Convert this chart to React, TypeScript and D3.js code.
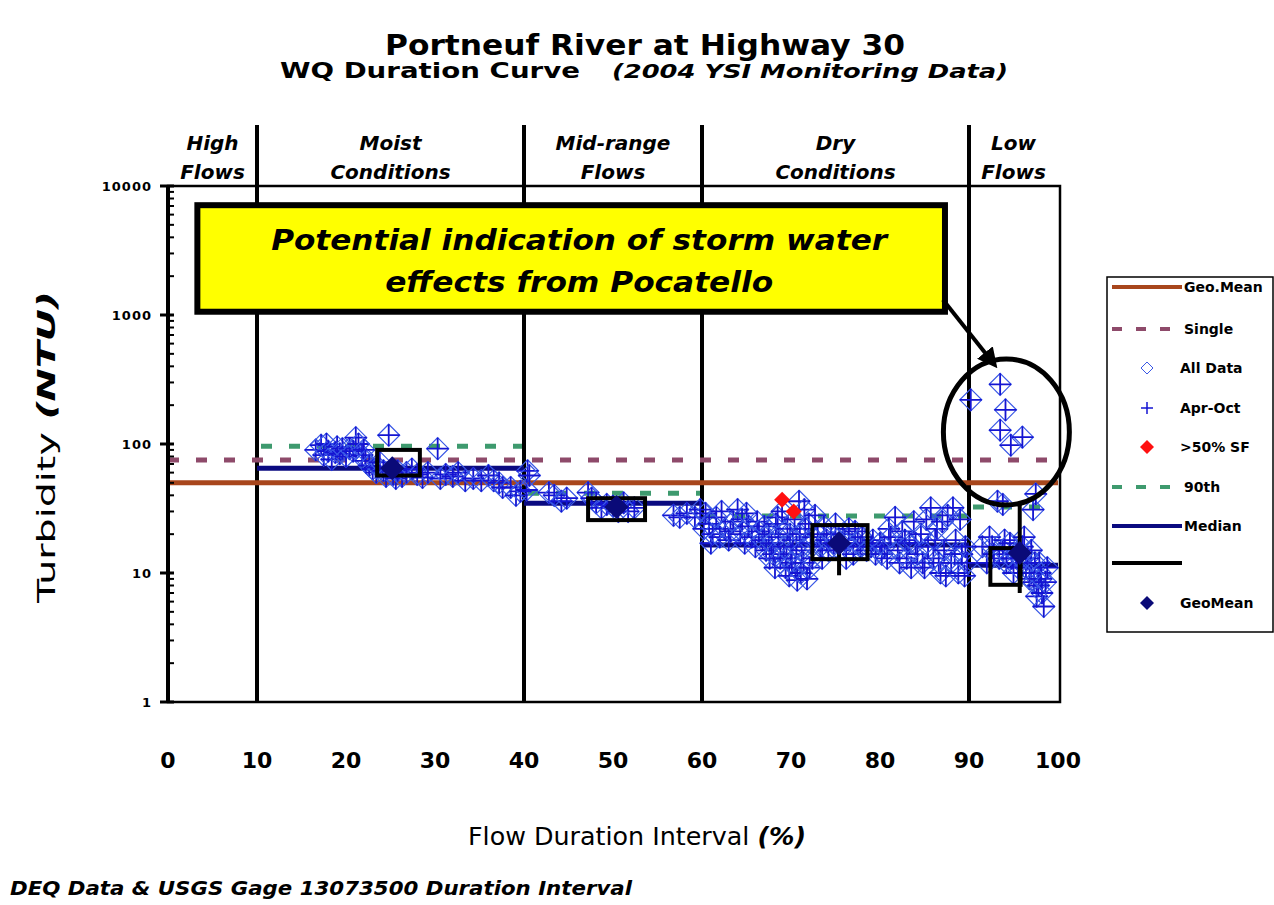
import React from "react";
import * as d3 from "d3";

// ---------- data ----------
const zoneBounds = [0, 10, 40, 60, 90, 100];
const zoneTop = ["High", "Moist", "Mid-range", "Dry", "Low"];
const zoneBottom = ["Flows", "Conditions", "Flows", "Conditions", "Flows"];
const xTicks = [0, 10, 20, 30, 40, 50, 60, 70, 80, 90, 100];
const yTicks = [1, 10, 100, 1000, 10000];
const yTickLabels = ["1", "10", "100", "1000", "10000"];

const geoMeanStandard = 50;
const singleStandard = 75;
const pct90ByZone = [NaN, 96, 41.5, 27.6, 32.5];
const medianByZone = [NaN, 65, 34.8, 16.5, 11.5];

const moistPoints: [number, number][] = [
  [16.6, 90], [17.2, 98], [17.5, 82], [17.8, 100], [18.0, 88], [18.4, 76], [18.8, 86], [19.0, 95],
  [19.3, 84], [19.6, 92], [20.0, 80], [20.4, 92], [20.8, 88], [21.1, 112], [21.4, 100], [21.8, 82],
  [22.0, 90], [22.2, 74], [22.6, 68], [23.0, 64], [23.4, 60], [23.6, 66], [23.8, 72], [24.2, 62],
  [24.5, 56], [24.8, 117], [25.3, 58], [25.6, 54], [25.8, 62], [26.3, 56], [26.8, 60], [27.4, 64],
  [28.0, 58], [28.6, 55], [29.2, 60], [30.3, 92], [30.6, 54], [31.2, 58], [32.0, 56], [32.6, 60],
  [33.4, 52], [34.3, 54], [35.2, 52], [36.0, 57], [36.6, 52], [37.2, 50], [37.6, 46], [38.5, 46],
  [39.1, 40], [39.6, 43], [40.4, 62],
];
const midPoints: [number, number][] = [
  [40.3, 44], [40.6, 57], [42.8, 42], [43.4, 40], [44.2, 36], [44.8, 38], [47.2, 42], [47.6, 38],
  [48.1, 35], [48.7, 32], [49.3, 34], [50.0, 33], [50.6, 30], [51.2, 35], [51.7, 30], [52.4, 32],
  [56.8, 28], [57.5, 27], [58.3, 29], [59.2, 27], [59.8, 31],
];
const dryPoints: [number, number][] = [
  [60.2, 22], [60.4, 29], [60.8, 24], [61.0, 17], [61.2, 20], [61.6, 27], [62.0, 19], [62.2, 30],
  [62.6, 22], [63.0, 18], [63.2, 21], [63.5, 25], [64.0, 31], [64.3, 20], [64.5, 26], [64.8, 17],
  [65.0, 29], [65.2, 23], [65.6, 19], [66.0, 16], [66.2, 25], [66.4, 21], [66.8, 18], [67.0, 23],
  [67.2, 15], [67.5, 20], [67.6, 13], [67.8, 17], [68.0, 14], [68.2, 11], [68.3, 24], [68.5, 27],
  [68.6, 19], [68.8, 13], [69.0, 30], [69.2, 16], [69.4, 11], [69.5, 13], [69.6, 22], [69.8, 9.5],
  [69.9, 20], [70.0, 14], [70.1, 12], [70.2, 18], [70.4, 26], [70.5, 11], [70.6, 16], [70.7, 8.8],
  [70.9, 36], [71.0, 20], [71.1, 10], [71.2, 15], [71.4, 12], [71.5, 31], [71.6, 22], [71.8, 9],
  [72.0, 24], [72.1, 11], [72.2, 17], [72.4, 13], [72.5, 19], [72.7, 28], [73.0, 20], [73.3, 16],
  [73.5, 13], [73.7, 23], [74.0, 18], [74.2, 15], [74.5, 20], [74.8, 17], [75.0, 24], [75.5, 15],
  [75.8, 20], [76.0, 18], [76.2, 13], [76.5, 22], [77.0, 14], [77.2, 21], [77.5, 17], [77.8, 16],
  [78.0, 19], [78.5, 15], [79.0, 16], [79.2, 18], [79.5, 14], [80.0, 17], [80.2, 14], [80.5, 16],
  [80.8, 13], [81.0, 22], [81.2, 19], [81.7, 27], [82.0, 15], [82.2, 12], [82.5, 21], [82.8, 18],
  [83.0, 13], [83.3, 17], [83.5, 11], [83.8, 25], [84.0, 17], [84.2, 14], [84.6, 20], [84.8, 12],
  [85.0, 11], [85.2, 26], [85.4, 16], [85.7, 32], [86.0, 13], [86.2, 18], [86.4, 22], [86.6, 12],
  [86.8, 10], [87.0, 25], [87.2, 15], [87.4, 9.5], [87.6, 28], [88.0, 12], [88.2, 32], [88.4, 14],
  [88.5, 18], [88.8, 10], [89.0, 26], [89.2, 14], [89.5, 9.5], [89.6, 16], [89.8, 12],
];
const lowPoints: [number, number][] = [
  [91.5, 16], [92.0, 12], [92.3, 19], [92.6, 16], [92.8, 14], [93.2, 36], [93.4, 13], [93.8, 34],
  [93.8, 15], [94.0, 18], [94.2, 12], [94.6, 17], [94.8, 13], [95.0, 10], [95.3, 14], [95.5, 11],
  [95.8, 13], [96.0, 16], [96.2, 19], [96.4, 11], [96.6, 13], [96.8, 9], [97.0, 15], [97.0, 10],
  [97.2, 31], [97.3, 8.5], [97.4, 12], [97.5, 41], [97.6, 6.6], [97.8, 8], [97.9, 12], [98.0, 10],
  [98.1, 9], [98.2, 7], [98.4, 5.5], [98.6, 8.5], [98.8, 11],
];
const stormPoints: [number, number][] = [
  [90.2, 220], [93.5, 290], [94.1, 184], [93.5, 128], [94.7, 98], [96.0, 113],
];
const above50SF: [number, number][] = [[69.0, 37], [70.3, 30]];

const geoMeanMarkers: [number, number][] = [[25.2, 65], [50.4, 32.5], [75.4, 17], [95.7, 14.3]];
const ciBoxX0 = [23.5, 47.2, 72.4, 92.4];
const ciBoxX1 = [28.3, 53.6, 78.6, 95.8];
const ciBoxLo = [57, 25.7, 12.8, 8.1];
const ciBoxHi = [90, 38, 23.5, 15.6];
const whiskerLo = [60, 28, 9.6, 7];
const whiskerHi = [70, 37, 17, 34.6];

// ---------- layout ----------
const W = 1274;
const H = 905;
const x = d3.scaleLinear().domain([0, 100]).range([168, 1058]);
const y = d3.scaleLog().domain([1, 10000]).range([702, 186]);

const FONT = "'DejaVu Sans', Verdana, sans-serif";

function diamond(cx: number, cy: number, s: number) {
  return `M${cx},${cy - s}L${cx + s},${cy}L${cx},${cy + s}L${cx - s},${cy}Z`;
}
function plus(cx: number, cy: number, s: number) {
  return `M${cx - s},${cy}H${cx + s}M${cx},${cy - s}V${cy + s}`;
}

export default function App() {
  const allPoints = [...moistPoints, ...midPoints, ...dryPoints, ...lowPoints, ...stormPoints];
  const minor: number[] = [];
  for (let d = 1; d < 10000; d *= 10) for (let k = 2; k <= 9; k++) minor.push(d * k);

  const ellCx = x(94.2);
  const ellCy = y(124);
  const boxL = x(3.3), boxR = x(87.3), boxT = y(7100), boxB = y(1060);
  const arrowX1 = boxR - 2, arrowY1 = boxB - 12;
  const arrowX2 = ellCx - 14, arrowY2 = ellCy - 70;

  return (
    <svg width={W} height={H} style={{ display: "block", position: "absolute", left: 0, top: 0, background: "#fff" }} fontFamily={FONT}>
      <defs>
        <marker id="arr" viewBox="0 0 10 10" refX="6" refY="5" markerWidth="5" markerHeight="5" orient="auto">
          <path d="M0,0L10,5L0,10Z" fill="#000" />
        </marker>
      </defs>
      <rect x={0} y={0} width={W} height={H} fill="#fff" />

      {/* titles */}
      <text x={645} y={55} textAnchor="middle" fontSize={28} fontWeight="bold" textLength={520} lengthAdjust="spacingAndGlyphs">
        Portneuf River at Highway 30
      </text>
      <text x={280} y={78} fontSize={22} fontWeight="bold" textLength={300} lengthAdjust="spacingAndGlyphs">
        WQ Duration Curve
      </text>
      <text x={612} y={78} fontSize={19} fontWeight="bold" fontStyle="italic" textLength={396} lengthAdjust="spacingAndGlyphs">
        (2004 YSI Monitoring Data)
      </text>

      {/* zone labels */}
      {zoneTop.map((t, i) => {
        const cx = x((zoneBounds[i] + zoneBounds[i + 1]) / 2);
        return (
          <g key={t} fontWeight="bold" fontStyle="italic" fontSize={20} textAnchor="middle">
            <text x={cx} y={150}>{t}</text>
            <text x={cx} y={179}>{zoneBottom[i]}</text>
          </g>
        );
      })}

      {/* zone dividers */}
      {zoneBounds.slice(1, -1).map((b) => (
        <line key={b} x1={x(b)} x2={x(b)} y1={125} y2={y(1)} stroke="#000" strokeWidth={4} />
      ))}

      {/* reference lines */}
      <line x1={x(0)} x2={x(100)} y1={y(geoMeanStandard)} y2={y(geoMeanStandard)} stroke="#A8461C" strokeWidth={5} />
      <line x1={x(0)} x2={x(100)} y1={y(singleStandard)} y2={y(singleStandard)} stroke="#8E4A6A" strokeWidth={5} strokeDasharray="11 17" />
      {pct90ByZone.map((v, i) =>
        isNaN(v) ? null : (
          <line key={"p90" + i} x1={x(zoneBounds[i]) + 4} x2={x(zoneBounds[i + 1]) - 2} y1={y(v)} y2={y(v)} stroke="#3E9A6E" strokeWidth={5} strokeDasharray="11 17" />
        )
      )}
      {medianByZone.map((v, i) =>
        isNaN(v) ? null : (
          <line key={"med" + i} x1={x(zoneBounds[i])} x2={x(zoneBounds[i + 1])} y1={y(v)} y2={y(v)} stroke="#0A0A80" strokeWidth={5} />
        )
      )}

      {/* data */}
      <g fill="none">
        {allPoints.map(([p, v], i) => (
          <g key={"pt" + i}>
            <path d={diamond(x(p), y(v), 11)} stroke="#3A58E6" strokeWidth={1.2} />
            <path d={plus(x(p), y(v), 11)} stroke="#1414D2" strokeWidth={1.8} />
          </g>
        ))}
      </g>
      {above50SF.map(([p, v], i) => (
        <path key={"red" + i} d={diamond(x(p), y(v), 8)} fill="#FF1010" />
      ))}

      {/* confidence boxes and whiskers */}
      {ciBoxX0.map((x0, i) => (
        <g key={"box" + i}>
          <rect x={x(x0)} y={y(ciBoxHi[i])} width={x(ciBoxX1[i]) - x(x0)} height={y(ciBoxLo[i]) - y(ciBoxHi[i])} fill="none" stroke="#000" strokeWidth={4} />
          <line x1={x(geoMeanMarkers[i][0])} x2={x(geoMeanMarkers[i][0])} y1={y(whiskerHi[i])} y2={y(whiskerLo[i])} stroke="#000" strokeWidth={4} />
        </g>
      ))}
      {geoMeanMarkers.map(([p, v], i) => (
        <path key={"gm" + i} d={diamond(x(p), y(v), 12)} fill="#0A0A78" />
      ))}

      {/* frame & y axis */}
      <rect x={x(0)} y={y(10000)} width={x(100) - x(0) + 2} height={y(1) - y(10000)} fill="none" stroke="#000" strokeWidth={2.5} />
      <line x1={x(0)} x2={x(0)} y1={y(10000)} y2={y(1)} stroke="#000" strokeWidth={4} />
      {minor.map((m) => (
        <line key={"mn" + m} x1={x(0)} x2={x(0) + 6} y1={y(m)} y2={y(m)} stroke="#000" strokeWidth={2} />
      ))}
      {yTicks.map((t, i) => (
        <g key={"yt" + t}>
          <line x1={x(0) - 8} x2={x(0) + 6} y1={y(t)} y2={y(t)} stroke="#000" strokeWidth={3} />
          <text x={x(0) - 16} y={y(t) + 5} textAnchor="end" fontSize={13} fontWeight="bold" letterSpacing={1}>
            {yTickLabels[i]}
          </text>
        </g>
      ))}
      {xTicks.map((t) => (
        <text key={"xt" + t} x={x(t)} y={768} textAnchor="middle" fontSize={22} fontWeight="bold">
          {t}
        </text>
      ))}

      {/* axis titles */}
      <text x={468} y={845} fontSize={25} textLength={338} lengthAdjust="spacingAndGlyphs">
        Flow Duration Interval <tspan fontWeight="bold" fontStyle="italic">(%)</tspan>
      </text>
      <text transform="translate(55,603) rotate(-90)" fontSize={25} textLength={312} lengthAdjust="spacingAndGlyphs">
        Turbidity <tspan fontWeight="bold" fontStyle="italic">(NTU)</tspan>
      </text>
      <text x={10} y={895} fontSize={19} fontWeight="bold" fontStyle="italic" textLength={622} lengthAdjust="spacingAndGlyphs">
        DEQ Data &amp; USGS Gage 13073500 Duration Interval
      </text>

      {/* callout */}
      <rect x={boxL} y={boxT} width={boxR - boxL} height={boxB - boxT} fill="#FFFF00" stroke="#000" strokeWidth={6} />
      <text x={(boxL + boxR) / 2 + 8} y={250} textAnchor="middle" fontSize={29} fontWeight="bold" fontStyle="italic" textLength={616} lengthAdjust="spacingAndGlyphs">
        Potential indication of storm water
      </text>
      <text x={(boxL + boxR) / 2 + 8} y={292} textAnchor="middle" fontSize={29} fontWeight="bold" fontStyle="italic" textLength={388} lengthAdjust="spacingAndGlyphs">
        effects from Pocatello
      </text>
      <line x1={arrowX1} y1={arrowY1} x2={arrowX2} y2={arrowY2} stroke="#000" strokeWidth={4} markerEnd="url(#arr)" />
      <ellipse cx={ellCx} cy={ellCy} rx={63} ry={73} fill="none" stroke="#000" strokeWidth={5} />

      {/* legend */}
      <g fontSize={14} fontWeight="bold">
        <rect x={1107} y={277} width={166} height={355} fill="#fff" stroke="#000" strokeWidth={1.5} />
        <line x1={1112} x2={1182} y1={287} y2={287} stroke="#A8461C" strokeWidth={4} />
        <text x={1184} y={292}>Geo.Mean</text>
        <line x1={1112} x2={1182} y1={329} y2={329} stroke="#8E4A6A" strokeWidth={4} strokeDasharray="10 14" />
        <text x={1184} y={334}>Single</text>
        <path d={diamond(1147, 368, 6)} fill="none" stroke="#3A58E6" strokeWidth={1} />
        <text x={1180} y={373}>All Data</text>
        <path d={plus(1147, 408, 6)} fill="none" stroke="#1414D2" strokeWidth={1.5} />
        <text x={1180} y={413}>Apr-Oct</text>
        <path d={diamond(1147, 447, 7)} fill="#FF1010" />
        <text x={1180} y={452}>&gt;50% SF</text>
        <line x1={1112} x2={1182} y1={487} y2={487} stroke="#3E9A6E" strokeWidth={4} strokeDasharray="10 14" />
        <text x={1184} y={492}>90th</text>
        <line x1={1112} x2={1182} y1={526} y2={526} stroke="#0A0A80" strokeWidth={4} />
        <text x={1184} y={531}>Median</text>
        <line x1={1112} x2={1182} y1={563} y2={563} stroke="#000" strokeWidth={4} />
        <path d={diamond(1147, 603, 7)} fill="#0A0A78" />
        <text x={1180} y={608}>GeoMean</text>
      </g>
    </svg>
  );
}
